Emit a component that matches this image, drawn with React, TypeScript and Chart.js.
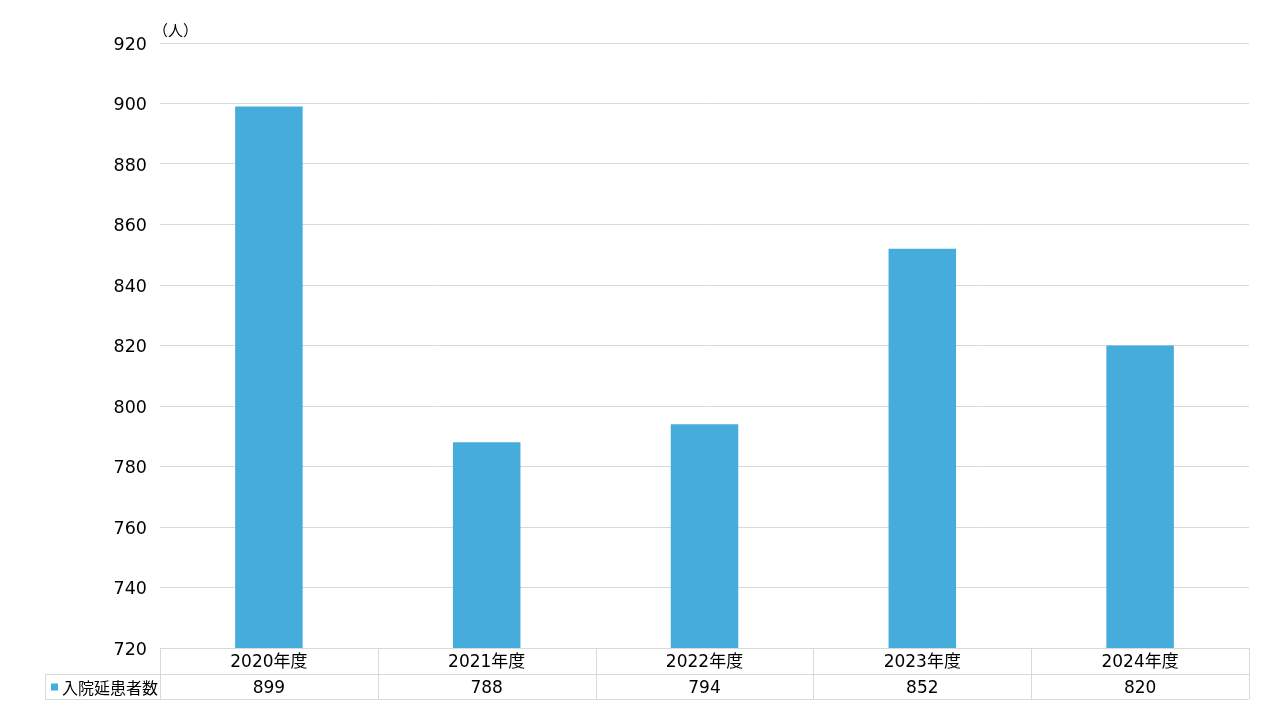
import React, { useEffect, useRef } from "react";
import { Chart, registerables } from "chart.js";

Chart.register(...registerables);

const categories: string[] = ["2020年度", "2021年度", "2022年度", "2023年度", "2024年度"];
const seriesName = "入院延患者数";
const values: number[] = [899, 788, 794, 852, 820];
const unitLabel = "（人）";
const yMin = 720;
const yMax = 920;
const yStep = 20;

const BAR_COLOR = "#45ACDC";
const LINE_COLOR = "#d9d9d9";
const FONT = "'DejaVu Sans', 'Noto Sans CJK JP', sans-serif";
const CJK_FONT = "'Noto Sans CJK JP', sans-serif";

const tablePlugin = {
  id: "dataTable",
  afterDraw(chart: any) {
    const ctx = chart.ctx as CanvasRenderingContext2D;
    const area = chart.chartArea;
    const x = chart.scales.x;
    const top = area.bottom;
    const mid = top + 26;
    const bot = top + 51;
    const legendLeft = 45;
    ctx.save();
    ctx.strokeStyle = LINE_COLOR;
    ctx.lineWidth = 1;
    const h = (y: number, x1: number, x2: number) => {
      ctx.beginPath();
      ctx.moveTo(x1, Math.round(y) + 0.5);
      ctx.lineTo(x2, Math.round(y) + 0.5);
      ctx.stroke();
    };
    const v = (xx: number, y1: number, y2: number) => {
      ctx.beginPath();
      ctx.moveTo(Math.round(xx) + 0.5, y1);
      ctx.lineTo(Math.round(xx) + 0.5, y2);
      ctx.stroke();
    };
    h(top, area.left, area.right);
    h(mid, legendLeft, area.right);
    h(bot, legendLeft, area.right);
    v(legendLeft, mid, bot);
    const n = categories.length;
    const w = (area.right - area.left) / n;
    for (let i = 0; i <= n; i++) {
      v(area.left + w * i, top, bot);
    }
    ctx.fillStyle = "#000";
    ctx.font = `17px ${FONT}`;
    ctx.textAlign = "center";
    ctx.textBaseline = "middle";
    categories.forEach((c, i) => {
      const cx = x.getPixelForValue(i);
      ctx.fillText(c, cx, (top + mid) / 2 + 2);
      ctx.fillText(String(values[i]), cx, (mid + bot) / 2 + 2);
    });
    // legend key
    ctx.fillStyle = BAR_COLOR;
    ctx.fillRect(51, (mid + bot) / 2 - 3, 7, 7);
    ctx.fillStyle = "#000";
    ctx.textAlign = "left";
    ctx.font = `16px ${CJK_FONT}`;
    ctx.fillText(seriesName, 62, (mid + bot) / 2 + 1);
    // unit label
    ctx.font = `15px ${CJK_FONT}`;
    ctx.textAlign = "left";
    ctx.fillText(unitLabel, 153, 30);
    ctx.restore();
  },
};

export default function App() {
  const ref = useRef<HTMLCanvasElement | null>(null);
  useEffect(() => {
    if (!ref.current) return;
    const chart = new Chart(ref.current, {
      type: "bar",
      data: {
        labels: categories,
        datasets: [
          {
            label: seriesName,
            data: values,
            backgroundColor: BAR_COLOR,
            barPercentage: 0.31,
            categoryPercentage: 1,
          },
        ],
      },
      options: {
        responsive: false,
        animation: false,
        layout: { padding: { left: 0, top: 43, right: 31, bottom: 72 } },
        plugins: {
          legend: { display: false },
          tooltip: { enabled: false },
        },
        scales: {
          x: { display: false },
          y: {
            min: yMin,
            max: yMax,
            afterFit: (s: any) => {
              s.width = 160;
            },
            border: { display: false },
            grid: { color: LINE_COLOR, drawTicks: false },
            ticks: {
              stepSize: yStep,
              padding: 13,
              labelOffset: 2,
              color: "#000",
              font: { family: FONT, size: 17.5 },
            },
          },
        },
      },
      plugins: [tablePlugin],
    });
    return () => chart.destroy();
  }, []);
  return (
    <div style={{ position: "absolute", left: 0, top: 0, width: 1280, height: 720, background: "#fff" }}>
      <canvas ref={ref} width={1280} height={720} />
    </div>
  );
}
